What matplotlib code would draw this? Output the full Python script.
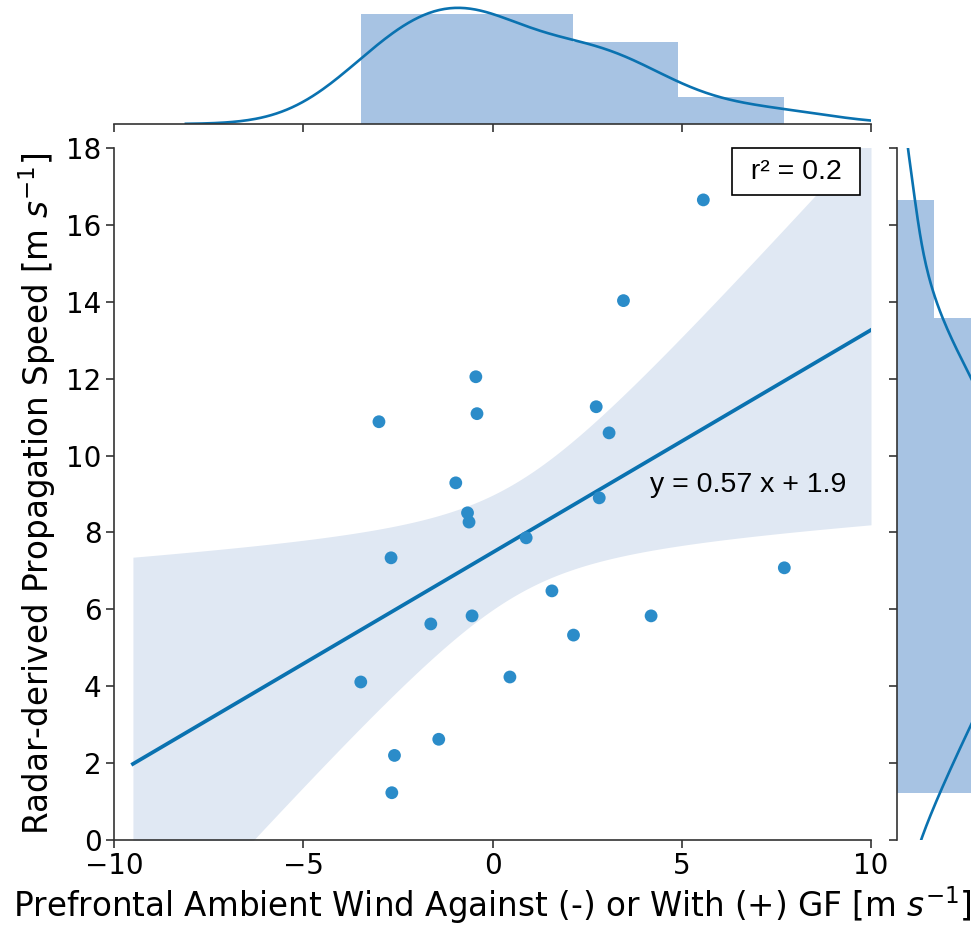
import numpy as np
import matplotlib.pyplot as plt

# wind against (-) or with (+) the gust front [m/s]
wind = [5.57, 3.46, -0.44, -0.41, -3.00, 2.74, 3.08, -0.97, -0.66, -0.62, 2.82, 0.89,
        -2.68, 1.57, -0.54, -1.63, 4.19, 2.14, -3.48, 0.46, 7.71, -1.42, -2.59, -2.66]
# radar-derived propagation speed [m/s]
speed = [16.65, 14.03, 12.05, 11.09, 10.88, 11.27, 10.59, 9.29, 8.51, 8.27, 8.90, 7.86,
         7.34, 6.48, 5.83, 5.62, 5.83, 5.33, 4.11, 4.24, 7.08, 2.62, 2.20, 1.23]

x_ticks = [-10, -5, 0, 5, 10]
y_ticks = [0, 2, 4, 6, 8, 10, 12, 14, 16, 18]
fit_range = (-9.5, 10)

blue = '#0a72b0'
dot_blue = '#2b8cc9'
hist_blue = '#a7c3e3'
band_blue = '#e0e8f3'
spine_col = '#333333'

W, H = 971, 926
fig = plt.figure(figsize=(W / 100, H / 100), dpi=100)


def add_ax(left, top, right, bottom):
    # place an axes using pixel edges (measured from the top-left corner)
    return fig.add_axes([left / W, 1 - bottom / H, (right - left) / W, (bottom - top) / H])


ax = add_ax(114, 148, 871, 840)
ax_top = add_ax(114, -27, 871, 124)
ax_right = add_ax(897, 148, 1048, 840)

x = np.array(wind)
y = np.array(speed)
n = len(x)


def kde(data, grid):
    bw = data.std(ddof=1) * len(data) ** (-1 / 5)
    z = (grid[:, None] - data[None, :]) / bw
    return np.exp(-0.5 * z ** 2).sum(axis=1) / (len(data) * bw * np.sqrt(2 * np.pi))


# regression line + 95% confidence band
slope, intercept = np.polyfit(x, y, 1)
grid = np.linspace(fit_range[0], fit_range[1], 200)
fit = slope * grid + intercept
resid = y - (slope * x + intercept)
s = np.sqrt((resid ** 2).sum() / (n - 2))
sxx = ((x - x.mean()) ** 2).sum()
se = s * np.sqrt(1 / n + (grid - x.mean()) ** 2 / sxx)
t = 2.074
ax.fill_between(grid, fit - t * se, fit + t * se, color=band_blue, lw=0, zorder=1)
ax.plot(grid, fit, color=blue, lw=2.7, zorder=3)
ax.scatter(x, y, s=85, color=dot_blue, edgecolor='none', zorder=4)

ax.set_xlim(-10, 10)
ax.set_ylim(0, 18)
ax.set_xticks(x_ticks)
ax.set_yticks(y_ticks)
ax.set_xlabel('Prefrontal Ambient Wind Against (-) or With (+) GF [m $s^{-1}$]',
              fontsize=23.5, labelpad=3)
ax.set_ylabel('Radar-derived Propagation Speed [m $s^{-1}$]', fontsize=23.5, labelpad=6)

ax.text(0.901, 0.966, ' r² = 0.2 ', transform=ax.transAxes, ha='center', va='center',
        fontsize=20.5, family='Liberation Sans',
        bbox=dict(boxstyle='square,pad=0.38', fc='white', ec='black', lw=1.2))
ax.text(0.838, 0.513, 'y = 0.57 x + 1.9', transform=ax.transAxes, ha='center', va='center',
        fontsize=20.5, family='Liberation Sans')

# marginal distributions
ax_top.hist(x, bins=4, density=True, color=hist_blue, edgecolor='none')
gx = np.linspace(x.min() - 3 * x.std(ddof=1) * n ** -0.2, x.max() + 3 * x.std(ddof=1) * n ** -0.2, 300)
ax_top.plot(gx, kde(x, gx), color=blue, lw=1.9)
ax_top.set_xlim(-10, 10)
ax_top.set_ylim(0, 0.164)
ax_top.set_xticks(x_ticks)
ax_top.set_xticklabels([])
ax_top.set_yticks([])

ax_right.hist(y, bins=5, density=True, orientation='horizontal', color=hist_blue, edgecolor='none')
gy = np.linspace(y.min() - 3 * y.std(ddof=1) * n ** -0.2, y.max() + 3 * y.std(ddof=1) * n ** -0.2, 300)
ax_right.plot(kde(y, gy), gy, color=blue, lw=1.9)
ax_right.set_ylim(0, 18)
ax_right.set_xlim(0, 0.11)
ax_right.set_yticks(y_ticks)
ax_right.set_yticklabels([])
ax_right.set_xticks([])

for a in (ax, ax_top, ax_right):
    for side in ('top', 'right'):
        a.spines[side].set_visible(False)
    a.tick_params(direction='out', length=6, width=1.2, color=spine_col, labelsize=20, pad=3)
    for sp in a.spines.values():
        sp.set_color(spine_col)
        sp.set_linewidth(1.2)
ax_top.spines['left'].set_visible(False)
ax_right.spines['bottom'].set_visible(False)

fig.savefig('out.png', dpi=100)
